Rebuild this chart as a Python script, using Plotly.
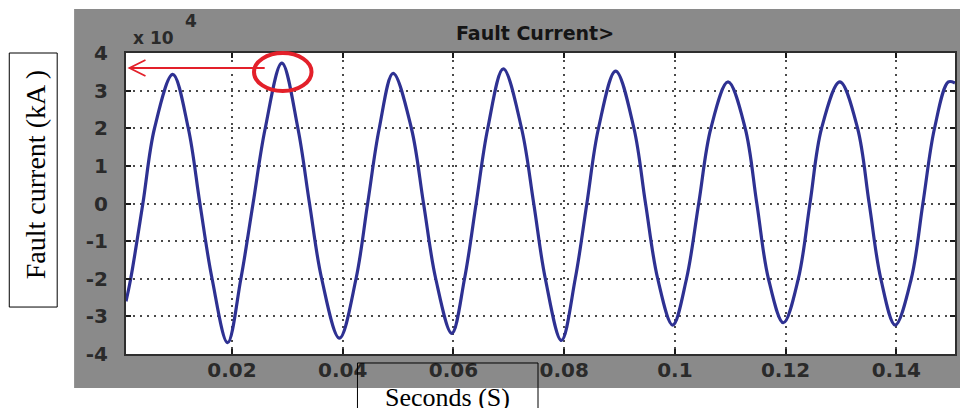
import plotly.graph_objects as go

# Fault current trace read at extremes, zero crossings and the +/-2 levels
# (time in s, current in units of 1e4 A)
time_s = [0.00085, 0.0017, 0.0039, 0.0060, 0.0093, 0.0121, 0.0142, 0.0164,
          0.0192, 0.0216, 0.0238, 0.0260, 0.0290, 0.0319, 0.0340, 0.0362,
          0.0394, 0.0424, 0.0445, 0.0466, 0.0491, 0.0524, 0.0546, 0.0568,
          0.0597, 0.0620, 0.0641, 0.0662, 0.0690, 0.0723, 0.0745, 0.0766,
          0.0795, 0.0820, 0.0841, 0.0862, 0.0893, 0.0926, 0.0947, 0.0969,
          0.0996, 0.1021, 0.1043, 0.1065, 0.1096, 0.1127, 0.1148, 0.1169,
          0.1196, 0.1223, 0.1244, 0.1265, 0.1298, 0.1330, 0.1351, 0.1372,
          0.1398, 0.1427, 0.1448, 0.1469, 0.1494, 0.1506]
current_1e4 = [-2.6, -2.0, 0.0, 2.0, 3.43, 2.0, 0.0, -2.0,
               -3.70, -2.0, 0.0, 2.0, 3.73, 2.0, 0.0, -2.0,
               -3.58, -2.0, 0.0, 2.0, 3.46, 2.0, 0.0, -2.0,
               -3.45, -2.0, 0.0, 2.0, 3.58, 2.0, 0.0, -2.0,
               -3.64, -2.0, 0.0, 2.0, 3.52, 2.0, 0.0, -2.0,
               -3.23, -2.0, 0.0, 2.0, 3.23, 2.0, 0.0, -2.0,
               -3.17, -2.0, 0.0, 2.0, 3.23, 2.0, 0.0, -2.0,
               -3.23, -2.0, 0.0, 2.0, 3.23, 3.20]

x_tick_vals = [0.02, 0.04, 0.06, 0.08, 0.10, 0.12, 0.14]
x_tick_text = ["0.02", "0.04", "0.06", "0.08", "0.1", "0.12", "0.14"]
y_tick_vals = [-4, -3, -2, -1, 0, 1, 2, 3, 4]
y_tick_text = ["-4", "-3", "-2", "-1", "0", "1", "2", "3", "4"]

X_RANGE = [0.00085, 0.1506]
Y_RANGE = [-4, 4]

GRAY = "#8a8a8a"
RED = "#e3202a"
TICK_FONT = dict(family="DejaVu Sans", size=20, color="#2a2a2a", weight="bold")

fig = go.Figure()
fig.add_trace(go.Scatter(
    x=time_s, y=current_1e4, mode="lines",
    line=dict(color="#2e3192", width=3.2, shape="spline", smoothing=1.0),
    showlegend=False, hoverinfo="skip",
))

axis_common = dict(
    showgrid=True, gridcolor="#4a4a4a", gridwidth=1.5, griddash="2px,5px",
    zeroline=False, showline=True, linecolor="#2e2e2e", linewidth=2,
    mirror="ticks", ticks="inside", ticklen=5, tickwidth=2, tickcolor="#1a1a1a",
    tickfont=TICK_FONT, tickmode="array",
)

fig.update_xaxes(range=X_RANGE, tickvals=x_tick_vals, ticktext=x_tick_text,
                 ticklabelstandoff=-3, **axis_common)
fig.update_yaxes(range=Y_RANGE, tickvals=y_tick_vals, ticktext=y_tick_text,
                 ticklabelstandoff=12, **axis_common)

shapes = [
    # gray figure panel and white axes area
    dict(type="rect", xref="paper", yref="paper", x0=-0.0626, x1=1.01, y0=-0.113, y1=1.146,
         fillcolor=GRAY, line=dict(width=0), layer="below"),
    dict(type="rect", xref="paper", yref="paper", x0=0, x1=1, y0=0, y1=1,
         fillcolor="white", line=dict(width=0), layer="below"),
    # label boxes
    dict(type="rect", xref="paper", yref="paper", x0=-0.1408, x1=-0.0830, y0=0.156, y1=1.0,
         fillcolor="rgba(0,0,0,0)", line=dict(color="black", width=1), layer="above"),
    dict(type="rect", xref="paper", yref="paper", x0=0.2792, x1=0.4970, y0=-0.0299, y1=-0.26,
         fillcolor="rgba(0,0,0,0)", line=dict(color="black", width=1), layer="above"),
    # peak marker: ellipse and arrow pointing to the axis
    dict(type="circle", xref="paper", yref="paper", x0=0.1544, x1=0.2238, y0=0.8738, y1=1.0,
         line=dict(color=RED, width=4), layer="above"),
    dict(type="line", xref="paper", yref="paper", x0=0.1673, x1=0.0042, y0=0.9502, y1=0.9502,
         line=dict(color=RED, width=1.8), layer="above"),
    dict(type="path", xref="paper", yref="paper",
         path="M 0.0235,0.9768 L 0.0042,0.9502 L 0.0235,0.9236",
         line=dict(color=RED, width=1.8), layer="above"),
]

centered = dict(xref="paper", yref="paper", showarrow=False, xanchor="center", yanchor="middle")
annotations = [
    dict(text="Fault Current>", x=0.4934, y=1.0664,
         font=dict(family="DejaVu Sans", size=19, color="#151515", weight="bold"), **centered),
    dict(text="x 10", x=0.0331, y=1.0498,
         font=dict(family="DejaVu Sans", size=17, color="#2a2a2a", weight="bold"), **centered),
    dict(text="4", x=0.0782, y=1.1063,
         font=dict(family="DejaVu Sans", size=17, color="#2a2a2a", weight="bold"), **centered),
    dict(text="Fault current (kA )", x=-0.1083, y=0.5947, textangle=-90,
         font=dict(family="Liberation Serif", size=28, color="black"), **centered),
    dict(text="Seconds (S)", x=0.3875, y=-0.1429,
         font=dict(family="Liberation Serif", size=26, color="black"), **centered),
]

fig.update_layout(
    width=960, height=408,
    margin=dict(l=126, r=3, t=53, b=54),
    paper_bgcolor="white", plot_bgcolor="white",
    shapes=shapes, annotations=annotations,
)

fig.write_html("out.html")
